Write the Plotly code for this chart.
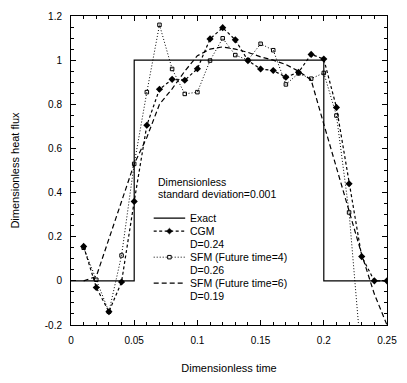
import plotly.graph_objects as go

# ---------------- data ----------------
exact_t = [0.0, 0.05, 0.05, 0.2, 0.2, 0.25]
exact_q = [0.0, 0.0, 1.0, 1.0, 0.0, 0.0]

cgm_t = [0.01, 0.02, 0.03, 0.04, 0.05, 0.06, 0.07, 0.08, 0.09, 0.10, 0.11, 0.12, 0.13,
         0.14, 0.15, 0.16, 0.17, 0.18, 0.19, 0.20, 0.21, 0.22, 0.23, 0.24, 0.25]
cgm_q = [0.156, -0.03, -0.14, -0.005, 0.36, 0.705, 0.868, 0.913, 0.909, 0.961, 1.096, 1.147, 1.092,
         0.998, 0.96, 0.953, 0.923, 0.945, 1.026, 1.005, 0.786, 0.44, 0.11, 0.0, 0.0]

sfm4_t = [0.01, 0.02, 0.03, 0.04, 0.05, 0.06, 0.07, 0.08, 0.09, 0.10, 0.11, 0.12, 0.13,
          0.14, 0.15, 0.16, 0.17, 0.18, 0.19, 0.20, 0.21, 0.22, 0.23]
sfm4_q = [0.15, 0.005, -0.14, 0.115, 0.53, 0.855, 1.16, 0.96, 0.847, 0.855, 0.998, 1.099, 1.023,
          1.0, 1.074, 1.045, 0.89, 0.94, 0.916, 0.942, 0.749, 0.31, -0.37]

sfm6_t = [0.01, 0.02, 0.03, 0.04, 0.05, 0.06, 0.07, 0.08, 0.09, 0.10, 0.11, 0.12, 0.13,
          0.14, 0.15, 0.16, 0.17, 0.18, 0.19, 0.20, 0.21, 0.22, 0.23, 0.24, 0.25]
sfm6_q = [0.0, 0.02, 0.19, 0.36, 0.53, 0.65, 0.80, 0.87, 0.95, 1.02, 1.05, 1.06, 1.05,
          1.035, 1.015, 1.0, 0.98, 0.95, 0.91, 0.71, 0.51, 0.31, 0.12, -0.06, -0.2]

x_tickvals = [0, 0.05, 0.1, 0.15, 0.2, 0.25]
x_ticktext = ["0", "0.05", "0.1", "0.15", "0.2", "0.25"]
y_tickvals = [-0.2, 0, 0.2, 0.4, 0.6, 0.8, 1.0, 1.2]
y_ticktext = ["-0.2", "0", "0.2", "0.4", "0.6", "0.8", "1", "1.2"]

series_names = ["Exact", "CGM", "SFM (Future time=4)", "SFM (Future time=6)"]
series_d = ["", "D=0.24", "D=0.26", "D=0.19"]
legend_heading = ["Dimensionless", "standard deviation=0.001"]

FONT = "Liberation Sans, Arial, sans-serif"
INK = "#000000"

# figure geometry (pixels)
W, H = 407, 383
ML, MR, MT, MB = 71, 15, 10, 55
PW, PH = W - ML - MR, H - MT - MB


def px_x(px):
    return (px - ML) / PW


def px_y(py):
    return (H - MB - py) / PH


styles = [
    dict(line=dict(color=INK, width=1.2), marker=None),
    dict(line=dict(color=INK, width=1.2, dash="3px,2.5px"), marker="diamond"),
    dict(line=dict(color=INK, width=1, dash="1px,2px"), marker="square"),
    dict(line=dict(color=INK, width=1.2, dash="5px,3px"), marker=None),
]

fig = go.Figure()
fig.add_trace(go.Scatter(x=exact_t, y=exact_q, mode="lines", name=series_names[0],
                         line=styles[0]["line"]))
fig.add_trace(go.Scatter(x=cgm_t, y=cgm_q, mode="lines+markers", name=series_names[1],
                         line=styles[1]["line"],
                         marker=dict(symbol="diamond", size=5.5, color=INK)))
fig.add_trace(go.Scatter(x=sfm4_t, y=sfm4_q, mode="lines+markers", name=series_names[2],
                         line=styles[2]["line"],
                         marker=dict(symbol="square-open", size=3.5, color=INK,
                                     line=dict(width=1, color=INK))))
fig.add_trace(go.Scatter(x=sfm6_t, y=sfm6_q, mode="lines", name=series_names[3],
                         line=styles[3]["line"]))

axis_common = dict(
    showline=True, linecolor=INK, linewidth=1, mirror="allticks",
    ticks="inside", ticklen=5, tickcolor=INK, tickwidth=1,
    showgrid=False, zeroline=False,
    tickfont=dict(family=FONT, size=10, color=INK),
)

fig.update_xaxes(range=[0, 0.25], tickvals=x_tickvals, ticktext=x_ticktext,
                 minor=dict(dtick=0.01, ticks="inside", ticklen=3, tickcolor=INK, showgrid=False),
                 title=dict(text="Dimensionless time", font=dict(family=FONT, size=11, color=INK),
                            standoff=19),
                 ticklabelstandoff=6,
                 **axis_common)
fig.update_yaxes(range=[-0.2, 1.2], tickvals=y_tickvals, ticktext=y_ticktext,
                 minor=dict(dtick=0.05, ticks="inside", ticklen=3, tickcolor=INK, showgrid=False),
                 title=dict(text="Dimensionless heat flux", font=dict(family=FONT, size=11, color=INK),
                            standoff=22),
                 ticklabelstandoff=6,
                 **axis_common)

# ---------------- hand-placed legend block ----------------
LEG_FS = 10.5
annotations = []
shapes = []
head_x = 157
head_y = [181, 193]
for txt, yy in zip(legend_heading, head_y):
    annotations.append(dict(x=px_x(head_x), y=px_y(yy), xref="paper", yref="paper",
                            text=txt, showarrow=False, xanchor="left", yanchor="middle",
                            font=dict(family=FONT, size=LEG_FS, color=INK)))

row_y0, row_dy = 218, 13.4
sample_x0, sample_x1, text_x = 155, 187, 190
row = 0
for i, name in enumerate(series_names):
    yy = row_y0 + row * row_dy
    st = styles[i]
    shapes.append(dict(type="line", xref="paper", yref="paper",
                       x0=px_x(sample_x0), x1=px_x(sample_x1), y0=px_y(yy), y1=px_y(yy),
                       line=st["line"]))
    cx = (sample_x0 + sample_x1) / 2
    if st["marker"] == "diamond":
        r = 3
        path = "M {a},{b} L {c},{d} L {a},{e} L {f},{d} Z".format(
            a=px_x(cx), b=px_y(yy - r), c=px_x(cx + r), d=px_y(yy), e=px_y(yy + r), f=px_x(cx - r))
        shapes.append(dict(type="path", xref="paper", yref="paper", path=path,
                           fillcolor=INK, line=dict(color=INK, width=0.5)))
    elif st["marker"] == "square":
        r = 1.8
        shapes.append(dict(type="rect", xref="paper", yref="paper",
                           x0=px_x(cx - r), x1=px_x(cx + r), y0=px_y(yy + r), y1=px_y(yy - r),
                           fillcolor="white", line=dict(color=INK, width=1)))
    annotations.append(dict(x=px_x(text_x), y=px_y(yy), xref="paper", yref="paper",
                            text=name, showarrow=False, xanchor="left", yanchor="middle",
                            font=dict(family=FONT, size=LEG_FS, color=INK)))
    row += 1
    if series_d[i]:
        yy = row_y0 + row * row_dy
        annotations.append(dict(x=px_x(text_x), y=px_y(yy), xref="paper", yref="paper",
                                text=series_d[i], showarrow=False, xanchor="left", yanchor="middle",
                                font=dict(family=FONT, size=LEG_FS, color=INK)))
        row += 1

fig.update_layout(
    width=W, height=H,
    margin=dict(l=ML, r=MR, t=MT, b=MB),
    plot_bgcolor="white", paper_bgcolor="white",
    font=dict(family=FONT, size=11, color=INK),
    showlegend=False,
    annotations=annotations,
    shapes=shapes,
)

fig.write_html("out.html")
